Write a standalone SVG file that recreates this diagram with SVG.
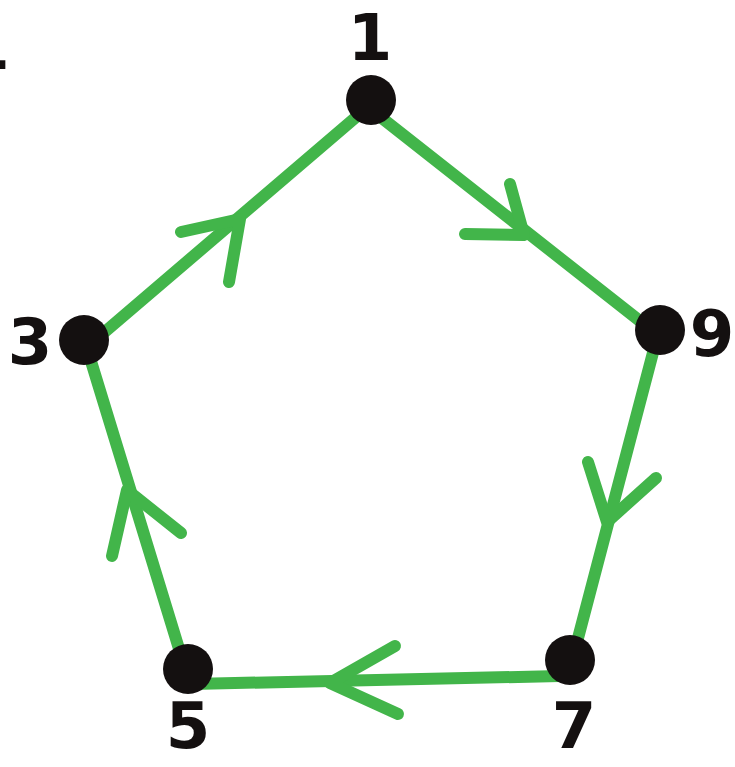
<svg xmlns="http://www.w3.org/2000/svg" width="735" height="767" viewBox="0 0 735 767">
<style>
.e{stroke:#42b54a;stroke-width:12;fill:none;stroke-linecap:round;stroke-linejoin:round}
.n{fill:#141010}
.t{font-family:"DejaVu Sans",sans-serif;font-weight:bold;font-size:64px;fill:#141010;text-anchor:middle}
</style>
<rect width="735" height="767" fill="#ffffff"/>
<text class="t" x="-14" y="78">4</text>
<g id="connectors">
<path class="e" d="M100,336 L362,112"/>
<polyline class="e" points="181,232 240,219 229,282"/>
<path class="e" d="M378,115 L645,325"/>
<polyline class="e" points="510,184 524,235 465,234"/>
<path class="e" d="M655,345 L577,642"/>
<polyline class="e" points="588,462 607,522 656,478"/>
<path class="e" d="M560,676 L192,684"/>
<polyline class="e" points="395,646 330,683 398,714"/>
<path class="e" d="M180,652 L90,358"/>
<polyline class="e" points="112,556 127,490 181,533"/>
</g>
<g id="n1"><circle class="n" cx="371" cy="100" r="25"/><text class="t" x="370" y="60">1</text></g>
<g id="n9"><circle class="n" cx="660" cy="330" r="25"/><text class="t" x="712" y="356">9</text></g>
<g id="n7"><circle class="n" cx="570" cy="660" r="25"/><text class="t" x="574" y="748">7</text></g>
<g id="n5"><circle class="n" cx="188" cy="669" r="25"/><text class="t" x="188" y="748">5</text></g>
<g id="n3"><circle class="n" cx="84" cy="340" r="25"/><text class="t" x="30" y="364">3</text></g>
</svg>
